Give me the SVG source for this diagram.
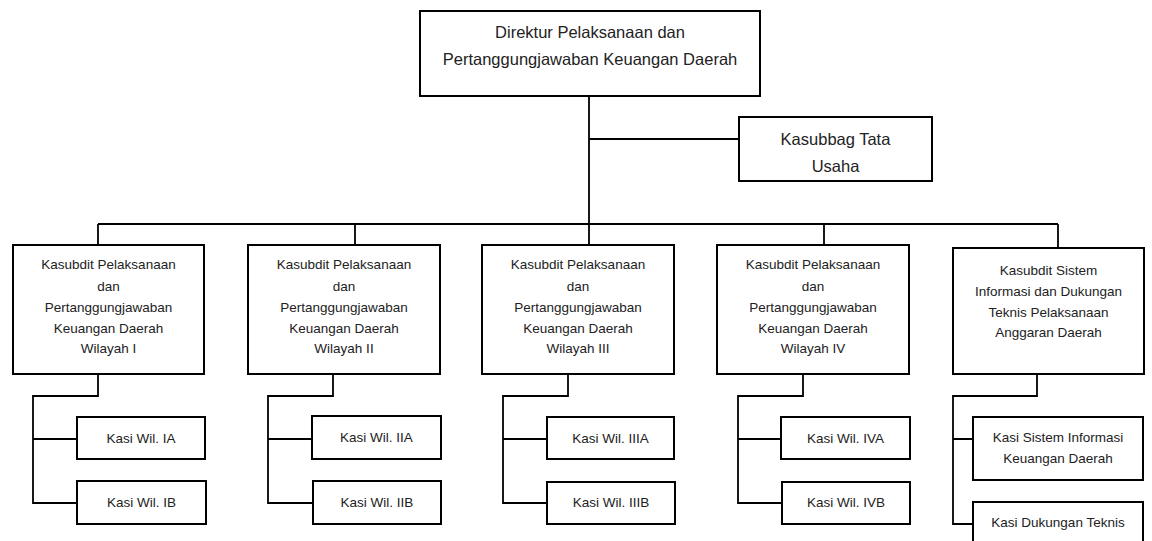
<svg xmlns="http://www.w3.org/2000/svg" width="1152" height="541" viewBox="0 0 1152 541">
<style>
.box{fill:#fff;stroke:#000;stroke-width:2}
.ln{fill:none;stroke:#000;stroke-width:1.8}
text{font-family:"Liberation Sans",Arial,sans-serif;fill:#222;text-anchor:middle}
.big{font-size:16.5px}
.sm{font-size:13.5px}
</style>
<rect width="1152" height="541" fill="#fff"/>
<g id="connectors">
<path class="ln" d="M589 96V224M589 139H739M98 224H1058M98 224V245M355 224V245M589 224V245M824 224V245M1058 224V248"/>
<path class="ln" d="M98 374V396H33V503H77M33 439H77"/>
<path class="ln" d="M333 374V396H268V503H313M268 439H312"/>
<path class="ln" d="M568 374V396H503V503H547M503 439H547"/>
<path class="ln" d="M803 374V396H738V503H782M738 439H781"/>
<path class="ln" d="M1037 374V396H953V524H973M953 439H973"/>
</g>
<g id="direktur"><rect class="box" x="420" y="11" width="340" height="85"/>
<text class="big" x="590" y="38">Direktur Pelaksanaan dan</text>
<text class="big" x="590" y="65">Pertanggungjawaban Keuangan Daerah</text></g>
<g id="kasubbag"><rect class="box" x="739" y="117" width="193" height="64"/>
<text class="big" x="835.5" y="145">Kasubbag Tata</text>
<text class="big" x="835.5" y="172">Usaha</text></g>
<g id="kasubdit1"><rect class="box" x="13" y="245" width="191" height="129"/>
<text class="sm" x="108.5" y="269">Kasubdit Pelaksanaan</text>
<text class="sm" x="108.5" y="291">dan</text>
<text class="sm" x="108.5" y="312">Pertanggungjawaban</text>
<text class="sm" x="108.5" y="333">Keuangan Daerah</text>
<text class="sm" x="108.5" y="353">Wilayah I</text></g>
<g id="kasubdit2"><rect class="box" x="248" y="245" width="192" height="129"/>
<text class="sm" x="344" y="269">Kasubdit Pelaksanaan</text>
<text class="sm" x="344" y="291">dan</text>
<text class="sm" x="344" y="312">Pertanggungjawaban</text>
<text class="sm" x="344" y="333">Keuangan Daerah</text>
<text class="sm" x="344" y="353">Wilayah II</text></g>
<g id="kasubdit3"><rect class="box" x="482" y="245" width="192" height="129"/>
<text class="sm" x="578" y="269">Kasubdit Pelaksanaan</text>
<text class="sm" x="578" y="291">dan</text>
<text class="sm" x="578" y="312">Pertanggungjawaban</text>
<text class="sm" x="578" y="333">Keuangan Daerah</text>
<text class="sm" x="578" y="353">Wilayah III</text></g>
<g id="kasubdit4"><rect class="box" x="717" y="245" width="192" height="129"/>
<text class="sm" x="813" y="269">Kasubdit Pelaksanaan</text>
<text class="sm" x="813" y="291">dan</text>
<text class="sm" x="813" y="312">Pertanggungjawaban</text>
<text class="sm" x="813" y="333">Keuangan Daerah</text>
<text class="sm" x="813" y="353">Wilayah IV</text></g>
<g id="kasubdit5"><rect class="box" x="953" y="248" width="191" height="126"/>
<text class="sm" x="1048.5" y="275">Kasubdit Sistem</text>
<text class="sm" x="1048.5" y="296">Informasi dan Dukungan</text>
<text class="sm" x="1048.5" y="317">Teknis Pelaksanaan</text>
<text class="sm" x="1048.5" y="337">Anggaran Daerah</text></g>
<g id="kasi-ia"><rect class="box" x="77" y="417" width="128" height="42"/><text class="sm" x="141" y="443">Kasi Wil. IA</text></g>
<g id="kasi-ib"><rect class="box" x="77" y="481" width="129" height="43"/><text class="sm" x="141.5" y="507">Kasi Wil. IB</text></g>
<g id="kasi-iia"><rect class="box" x="312" y="416" width="129" height="43"/><text class="sm" x="376.5" y="442">Kasi Wil. IIA</text></g>
<g id="kasi-iib"><rect class="box" x="313" y="481" width="128" height="43"/><text class="sm" x="377" y="507">Kasi Wil. IIB</text></g>
<g id="kasi-iiia"><rect class="box" x="547" y="417" width="127" height="42"/><text class="sm" x="610.5" y="443">Kasi Wil. IIIA</text></g>
<g id="kasi-iiib"><rect class="box" x="547" y="482" width="128" height="42"/><text class="sm" x="611" y="507">Kasi Wil. IIIB</text></g>
<g id="kasi-iva"><rect class="box" x="781" y="417" width="129" height="42"/><text class="sm" x="845.5" y="443">Kasi Wil. IVA</text></g>
<g id="kasi-ivb"><rect class="box" x="782" y="482" width="128" height="42"/><text class="sm" x="846" y="507">Kasi Wil. IVB</text></g>
<g id="kasi-sik"><rect class="box" x="973" y="417" width="170" height="63"/>
<text class="sm" x="1058" y="442">Kasi Sistem Informasi</text>
<text class="sm" x="1058" y="463">Keuangan Daerah</text></g>
<g id="kasi-dt"><rect class="box" x="973" y="502" width="170" height="60"/>
<text class="sm" x="1058" y="527">Kasi Dukungan Teknis</text></g>
</svg>
